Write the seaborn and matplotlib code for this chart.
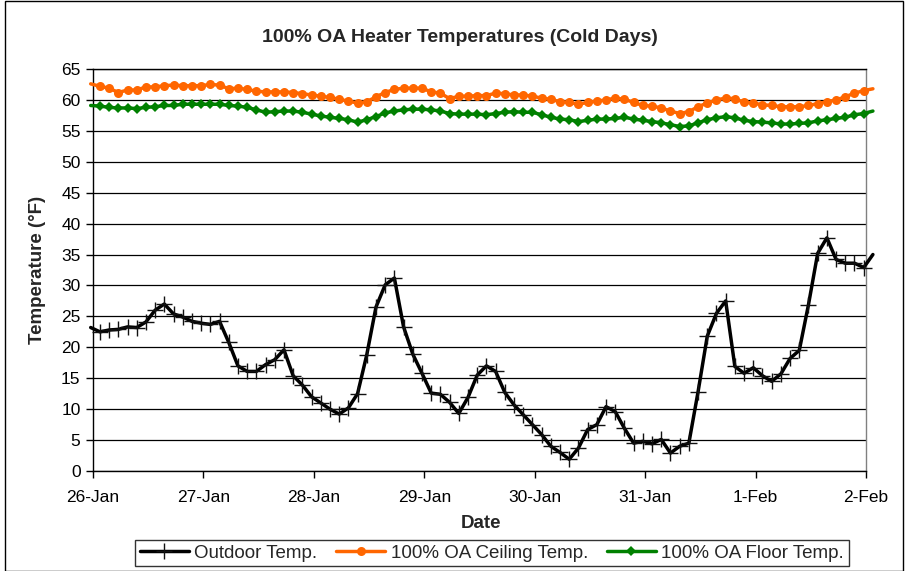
import numpy as np
import pandas as pd
import matplotlib
matplotlib.use("Agg")
import matplotlib.pyplot as plt
from matplotlib.patches import Rectangle
import seaborn as sns

sns.set_theme(style="white")
plt.rcParams["font.family"] = ["Liberation Sans", "DejaVu Sans"]

# ── Data (2-hourly readings, first one at 25-Jan 23:30) ──────────────────────
hours = np.arange(-0.5, 170, 2)

outdoor = [
    23.2,
    22.5, 22.8, 22.9, 23.3, 23.2, 24.1, 26.0, 27.0, 25.4, 24.9,
    24.2, 23.9, 23.7, 24.2, 20.8, 17.0, 16.1, 16.1, 17.2, 18.0,
    19.6, 15.4, 13.9, 12.0, 11.0, 10.0, 9.2, 10.2, 12.5, 18.8,
    26.5, 30.1, 31.2, 23.3, 18.9, 15.8, 12.6, 12.4, 11.1, 9.3,
    11.9, 15.5, 17.0, 16.1, 12.7, 10.7, 9.1, 7.5, 5.9, 4.0,
    3.0, 1.9, 3.7, 6.7, 7.5, 10.4, 9.6, 6.9, 4.5, 4.8,
    4.4, 5.1, 2.9, 4.0, 4.5, 12.8, 21.8, 25.5, 27.5, 16.9,
    15.8, 16.7, 15.4, 14.5, 15.7, 18.2, 19.5, 26.9, 35.2, 37.7,
    34.2, 33.6, 33.6, 32.9, 35.0,
]
ceiling = [
    62.6,
    62.2, 61.9, 61.2, 61.6, 61.6, 62.1, 62.1, 62.3, 62.4, 62.3,
    62.3, 62.3, 62.5, 62.4, 61.8, 61.9, 61.7, 61.4, 61.3, 61.3,
    61.3, 61.2, 61.0, 60.8, 60.6, 60.4, 60.1, 59.8, 59.5, 59.7,
    60.5, 61.2, 61.7, 61.9, 61.9, 61.9, 61.3, 61.1, 60.2, 60.6,
    60.6, 60.7, 60.7, 61.1, 61.0, 60.8, 60.8, 60.6, 60.3, 60.1,
    59.7, 59.6, 59.3, 59.6, 59.8, 60.0, 60.3, 60.1, 59.6, 59.1,
    59.0, 58.7, 58.2, 57.8, 58.1, 58.9, 59.5, 60.0, 60.3, 60.2,
    59.6, 59.5, 59.2, 59.1, 58.9, 58.9, 58.9, 59.1, 59.4, 59.7,
    60.0, 60.5, 61.1, 61.5, 61.8,
]
floor = [
    59.1,
    59.0, 58.8, 58.7, 58.7, 58.6, 58.8, 58.9, 59.1, 59.1, 59.3,
    59.3, 59.3, 59.3, 59.3, 59.1, 59.0, 58.8, 58.4, 58.0, 58.1,
    58.2, 58.2, 58.0, 57.7, 57.4, 57.2, 57.0, 56.8, 56.4, 56.8,
    57.3, 57.9, 58.2, 58.4, 58.5, 58.5, 58.4, 58.2, 57.8, 57.7,
    57.7, 57.7, 57.6, 57.8, 58.0, 58.1, 58.0, 58.0, 57.6, 57.2,
    56.9, 56.8, 56.5, 56.7, 56.9, 56.9, 57.0, 57.2, 56.9, 56.7,
    56.5, 56.3, 56.0, 55.7, 55.8, 56.3, 56.8, 57.1, 57.3, 57.1,
    56.7, 56.5, 56.4, 56.3, 56.1, 56.1, 56.2, 56.3, 56.6, 56.8,
    57.0, 57.2, 57.6, 57.8, 58.2,
]
day_labels = ["26-Jan", "27-Jan", "28-Jan", "29-Jan", "30-Jan", "31-Jan", "1-Feb", "2-Feb"]

df = pd.DataFrame({
    "day": hours / 24,
    "Outdoor Temp.": outdoor,
    "100% OA Ceiling Temp.": ceiling,
    "100% OA Floor Temp.": floor,
})

# ── Plot ──────────────────────────────────────────────────────────────────────
fig = plt.figure(figsize=(9.05, 5.71), dpi=100)
ax = fig.add_axes([93 / 905, 100 / 571, 773 / 905, 402 / 571])

inner = slice(1, -1)
sns.lineplot(data=df, x="day", y="Outdoor Temp.", ax=ax, color="black", lw=2.5,
             marker="+", markersize=12, markeredgewidth=1.0, markeredgecolor="#111111",
             markevery=inner, label="Outdoor Temp.", clip_on=False, zorder=5)
sns.lineplot(data=df, x="day", y="100% OA Ceiling Temp.", ax=ax, color="#FF6600", lw=2.5,
             marker="o", markersize=6.5, markeredgewidth=0, markevery=inner,
             label="100% OA Ceiling Temp.", clip_on=False, zorder=4)
sns.lineplot(data=df, x="day", y="100% OA Floor Temp.", ax=ax, color="#008000", lw=2.5,
             marker="D", markersize=5.5, markeredgewidth=0, markevery=inner,
             label="100% OA Floor Temp.", clip_on=False, zorder=4)

ax.set_xlim(0, 7)
ax.set_ylim(0, 65)
ax.set_xticks(range(len(day_labels)))
ax.set_xticklabels(day_labels)
ax.set_yticks(range(0, 66, 5))
ax.grid(axis="y", color="black", lw=0.9)
ax.grid(axis="x", visible=False)
ax.tick_params(axis="both", direction="out", length=5, width=1, color="black",
               labelsize=12.5, labelcolor="black", pad=4, left=True, bottom=True)
ax.tick_params(axis="x", pad=9)
for side in ["left", "bottom", "top"]:
    ax.spines[side].set_color("black")
    ax.spines[side].set_linewidth(1)
ax.spines["right"].set_color("#808080")
ax.spines["right"].set_linewidth(1)

ax.set_xlabel("")
ax.set_ylabel("")
fig.text(460 / 905, 1 - 38 / 571, "100% OA Heater Temperatures (Cold Days)",
         ha="center", va="center", fontsize=14, fontweight="bold")
fig.text(481 / 905, 1 - 524 / 571, "Date", ha="center", va="center",
         fontsize=13.5, fontweight="bold")
fig.text(38 / 905, 1 - 270 / 571, "Temperature (°F)", ha="center", va="center",
         rotation=90, fontsize=13.5, fontweight="bold")

ax.get_legend().remove()
handles, labels = ax.get_legend_handles_labels()
leg = fig.legend(handles, labels, loc="center", bbox_to_anchor=(492 / 905, 1 - 553 / 571),
                 ncol=3, fontsize=13.5, frameon=True, fancybox=False, edgecolor="black",
                 handlelength=2.6, handletextpad=0.3, columnspacing=1.0,
                 borderpad=0.25, borderaxespad=0)
leg.get_frame().set_linewidth(1)

fig.patches.append(Rectangle((4.5 / 905, 0.5 / 571), 898 / 905, 570 / 571,
                             transform=fig.transFigure, fill=False,
                             edgecolor="black", lw=1))

fig.savefig("out.png", dpi=100)
